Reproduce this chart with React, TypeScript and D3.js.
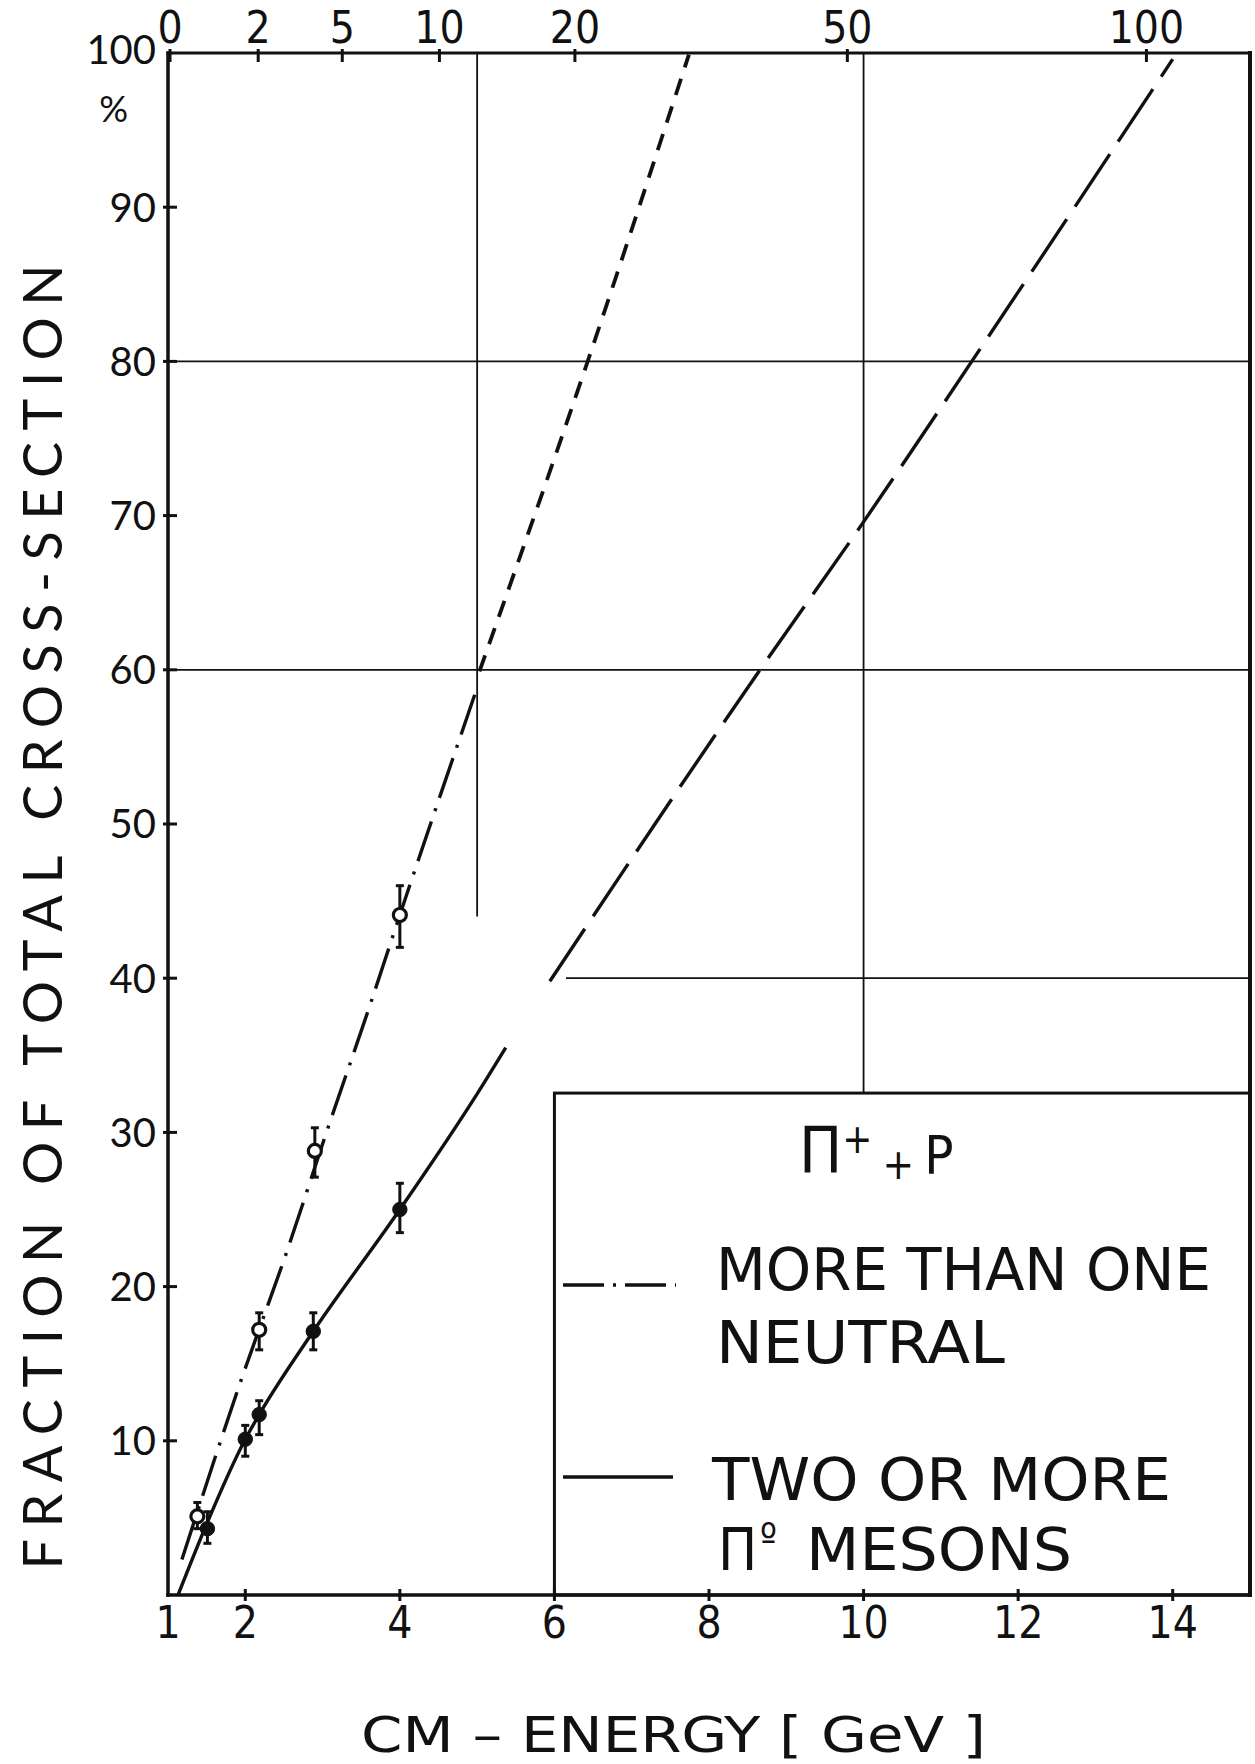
import React from "react";
import * as d3 from "d3";

// ---- data ----
const bottomTicks = [1, 2, 4, 6, 8, 10, 12, 14];
const leftTicks = [10, 20, 30, 40, 50, 60, 70, 80, 90, 100];
const topTickLabels = ["0", "2", "5", "10", "20", "50", "100"];
const topTickEnergy = [1.026, 2.167, 3.255, 4.512, 6.265, 9.79, 13.66];

// "two or more π0" : solid part, then long-dash extrapolation
const solidE = [1.13, 1.5, 2.0, 2.18, 2.88, 4.0, 5.0, 5.37];
const solidF = [0, 4.6, 10.1, 11.7, 17.1, 25.0, 32.5, 35.5];
const longDashE = [5.94, 8.66, 9.96, 11.4, 14.0];
const longDashF = [39.8, 60, 69.3, 80, 99.6];

// "more than one neutral" : dash-dot part, then short-dash extrapolation
const dashDotE = [1.18, 1.93, 2.56, 3.03, 3.61, 4.0, 4.97];
const dashDotF = [2.3, 13.7, 22.6, 29.7, 38.2, 44.1, 58.4];
const shortDashE = [5.03, 6.43, 7.74];
const shortDashF = [59.9, 80, 99.9];

// open circles: more than one neutral
const openE = [1.38, 2.18, 2.9, 4.0];
const openF = [5.1, 17.2, 28.8, 44.1];
const openHi = [6.0, 18.3, 30.3, 46.0];
const openLo = [4.3, 15.9, 27.1, 42.0];

// filled circles: two or more π0
const filledE = [1.51, 2.0, 2.18, 2.88, 4.0];
const filledF = [4.3, 10.1, 11.7, 17.1, 25.0];
const filledHi = [5.4, 11.0, 12.6, 18.3, 26.7];
const filledLo = [3.35, 9.0, 10.4, 15.9, 23.5];

// grid
const gridY = [60, 80];
const legendTopF = 32.55;

const W = 1255;
const H = 1764;

const NARROW = "'Liberation Sans Narrow', 'DejaVu Sans Condensed', 'Liberation Sans', sans-serif";
const ROUND = "Lato, 'DejaVu Sans', sans-serif";

export default function App() {
  const x = d3.scaleLinear().domain([1, 15]).range([168, 1250]);
  const y = d3.scaleLinear().domain([0, 100]).range([1595, 53]);

  const line = d3
    .line<[number, number]>()
    .x((d) => x(d[0]))
    .y((d) => y(d[1]))
    .curve(d3.curveMonotoneX);

  const zip = (a: number[], b: number[]) => a.map((v, i) => [v, b[i]] as [number, number]);

  const x0 = x(1);
  const x1 = x(15);
  const yTop = y(100);
  const yBot = y(0);

  return (
    <svg
      width={W}
      height={H}
      viewBox={`0 0 ${W} ${H}`}
      style={{ position: "absolute", left: 0, top: 0, background: "#fff" }}
    >
      <rect x={0} y={0} width={W} height={H} fill="#fff" />

      {/* grid lines */}
      <g stroke="#111" strokeWidth={1.8} fill="none">
        {gridY.map((g) => (
          <line key={g} x1={x0} x2={x1} y1={y(g)} y2={y(g)} />
        ))}
        <line x1={x(6.15)} x2={x1} y1={y(40)} y2={y(40)} />
        <line x1={x(5)} x2={x(5)} y1={yTop} y2={y(44)} />
        <line x1={x(10)} x2={x(10)} y1={yTop} y2={y(legendTopF)} />
      </g>

      {/* legend box */}
      <rect
        x={x(6)}
        y={y(legendTopF)}
        width={x(15) - x(6)}
        height={y(0) - y(legendTopF)}
        fill="#fff"
        stroke="#111"
        strokeWidth={3}
      />

      {/* curves */}
      <g fill="none" stroke="#111" strokeWidth={3.4} strokeLinecap="butt">
        <path d={line(zip(solidE, solidF)) || ""} />
        <path d={line(zip(longDashE, longDashF)) || ""} strokeDasharray="63 15" />
        <path d={line(zip(dashDotE, dashDotF)) || ""} strokeDasharray="42 11 3 11" />
        <path d={line(zip(shortDashE, shortDashF)) || ""} strokeDasharray="17 12" strokeWidth={3.8} />
      </g>

      {/* error bars */}
      <g stroke="#111" strokeWidth={3} fill="none">
        {openE.map((e, i) => (
          <g key={"eo" + i}>
            <line x1={x(e)} x2={x(e)} y1={y(openHi[i])} y2={y(openLo[i])} />
            <line x1={x(e) - 4} x2={x(e) + 4} y1={y(openHi[i])} y2={y(openHi[i])} />
            <line x1={x(e) - 4} x2={x(e) + 4} y1={y(openLo[i])} y2={y(openLo[i])} />
          </g>
        ))}
        {filledE.map((e, i) => (
          <g key={"ef" + i}>
            <line x1={x(e)} x2={x(e)} y1={y(filledHi[i])} y2={y(filledLo[i])} />
            <line x1={x(e) - 4} x2={x(e) + 4} y1={y(filledHi[i])} y2={y(filledHi[i])} />
            <line x1={x(e) - 4} x2={x(e) + 4} y1={y(filledLo[i])} y2={y(filledLo[i])} />
          </g>
        ))}
      </g>

      {/* markers */}
      {openE.map((e, i) => (
        <circle key={"o" + i} cx={x(e)} cy={y(openF[i])} r={6.5} fill="#fff" stroke="#111" strokeWidth={3.2} />
      ))}
      {filledE.map((e, i) => (
        <circle key={"f" + i} cx={x(e)} cy={y(filledF[i])} r={7.2} fill="#111" stroke="#111" strokeWidth={1} />
      ))}

      {/* frame */}
      <g stroke="#111" fill="none" strokeLinecap="square">
        <line x1={x0} x2={x0} y1={yTop} y2={yBot} strokeWidth={3.5} />
        <line x1={x0} x2={x1} y1={yBot} y2={yBot} strokeWidth={3.5} />
        <line x1={x0} x2={x1} y1={yTop} y2={yTop} strokeWidth={3} />
        <line x1={x1} x2={x1} y1={yTop} y2={yBot} strokeWidth={4} />
      </g>

      {/* left ticks */}
      <g stroke="#111" strokeWidth={3}>
        {leftTicks
          .filter((t) => t < 100)
          .map((t) => (
            <line key={t} x1={x0 - 5} x2={x0 + 9} y1={y(t)} y2={y(t)} />
          ))}
      </g>
      <g fontFamily={ROUND} fontSize={40} fill="#111" textAnchor="end">
        {leftTicks.map((t) => (
          <text key={t} x={x0 - 12} y={t === 100 ? y(t) - 3 : y(t)} dy="0.36em">
            {t}
          </text>
        ))}
        <text x={128} y={122} fontSize={36}>
          %
        </text>
      </g>

      {/* bottom ticks */}
      <g stroke="#111" strokeWidth={3}>
        {bottomTicks
          .filter((t) => t > 1)
          .map((t) => (
            <line key={t} x1={x(t)} x2={x(t)} y1={yBot - 6} y2={yBot + 6} />
          ))}
      </g>
      <g fontFamily={NARROW} fontSize={44} fill="#111" textAnchor="middle">
        {bottomTicks.map((t) => (
          <text key={t} x={x(t)} y={1638}>
            {t}
          </text>
        ))}
      </g>

      {/* top ticks */}
      <g stroke="#111" strokeWidth={3}>
        {topTickEnergy.map((e, i) => (
          <line key={i} x1={x(e)} x2={x(e)} y1={yTop - 4} y2={yTop + 9} />
        ))}
      </g>
      <g fontFamily={NARROW} fontSize={44} fill="#111" textAnchor="middle">
        {topTickEnergy.map((e, i) => (
          <text key={i} x={x(e)} y={43}>
            {topTickLabels[i]}
          </text>
        ))}
      </g>

      {/* axis titles */}
      <text
        transform="translate(62,917) rotate(-90)"
        textAnchor="middle"
        fontFamily={ROUND}
        fontSize={54}
        fill="#111"
        textLength={1305}
        lengthAdjust="spacing"
      >
        FRACTION OF TOTAL CROSS-SECTION
      </text>
      <text
        x={361}
        y={1752}
        fontFamily={NARROW}
        fontSize={50}
        fill="#111"
        textLength={625}
        lengthAdjust="spacingAndGlyphs"
      >
        CM – ENERGY  [ GeV ]
      </text>

      {/* legend */}
      <g fontFamily={NARROW} fill="#111">
        <text x={799} y={1173} fontSize={64}>
          Π
          <tspan fontSize={40} dy={-20}>+</tspan>
          <tspan fontSize={42} dy={26} dx={10}>+</tspan>
          <tspan fontSize={54} dy={-5} dx={10}>P</tspan>
        </text>
        <text x={716} y={1290} fontSize={58} textLength={495} lengthAdjust="spacingAndGlyphs">
          MORE THAN ONE
        </text>
        <text x={716} y={1363} fontSize={58} textLength={289} lengthAdjust="spacingAndGlyphs">
          NEUTRAL
        </text>
        <text x={712} y={1500} fontSize={58} textLength={459} lengthAdjust="spacingAndGlyphs">
          TWO OR MORE
        </text>
        <text x={718} y={1570} fontSize={58}>
          Π
        </text>
        <text x={760} y={1552} fontSize={40}>
          º
        </text>
        <text x={806} y={1570} fontSize={58} textLength={266} lengthAdjust="spacingAndGlyphs">
          MESONS
        </text>
      </g>
      <g stroke="#111" strokeWidth={3.4} fill="none">
        <line x1={563} x2={676} y1={1285} y2={1285} strokeDasharray="41 9 3 9" />
        <line x1={563} x2={673} y1={1477} y2={1477} />
      </g>
    </svg>
  );
}
